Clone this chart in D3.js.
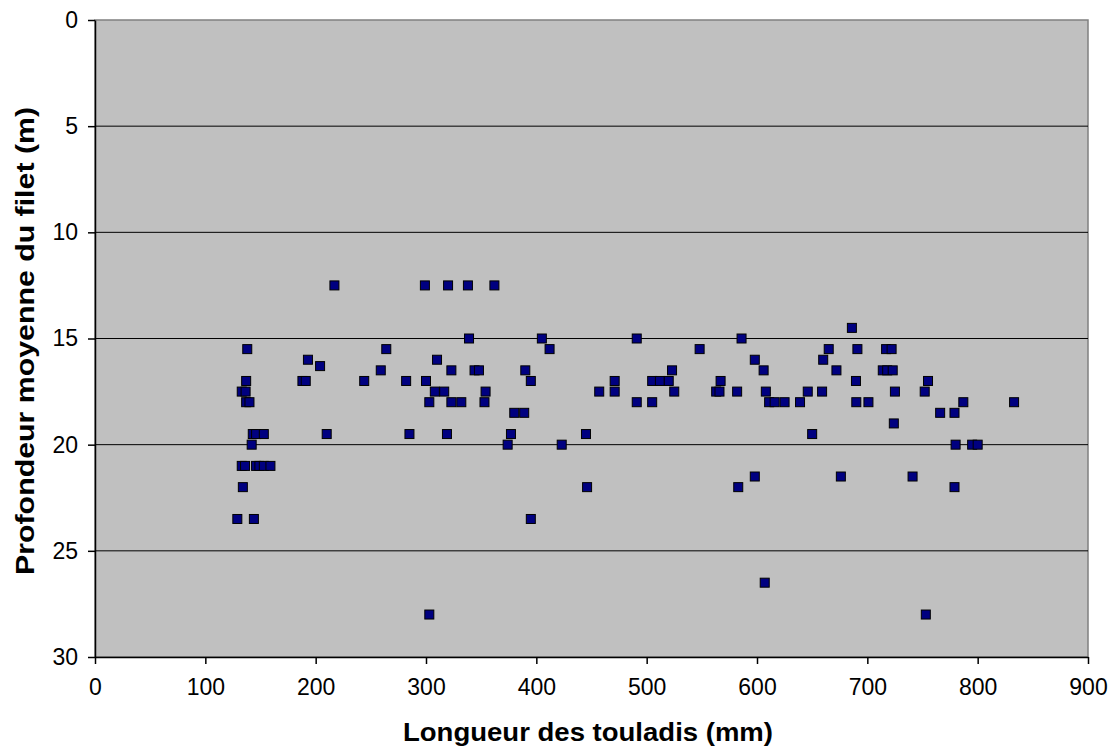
<!DOCTYPE html>
<html>
<head>
<meta charset="utf-8">
<script src="https://d3js.org/d3.v7.min.js"></script>
<style>
  body { margin: 0; background: #ffffff; }
  text { font-family: Arial, "Liberation Sans", sans-serif; }
</style>
</head>
<body>
<svg id="drawing_region"></svg>
<script>
// longueur des touladis (mm)
const lengths = [
    138, 137, 133, 136.5, 137, 140, 143, 146, 153, 142,
    133, 136, 146, 149, 153, 159, 134, 129, 144, 188,
    191, 193, 204, 210, 217, 244, 259, 264, 282, 285,
    299, 300, 303, 303, 308, 310, 316.5, 319, 320, 323,
    323, 332, 338, 339, 344, 348, 353, 354, 362, 374,
    377, 380, 389, 390, 395, 395, 405, 412, 423, 445,
    446, 457, 471, 471, 491, 491, 505, 505, 512, 520,
    523, 525, 548, 563, 566, 567, 582, 583, 586, 598,
    598, 606, 608, 607, 611, 616, 625, 639, 646, 650,
    659, 660, 665, 672, 676, 686, 689.7, 690, 691, 701,
    714, 718, 717, 722, 723, 725, 724, 741, 752, 753,
    755, 766, 779, 780, 779, 787, 795, 800, 833
];
// profondeur moyenne du filet (m)
const depths = [
    15.5, 17, 17.5, 17.5, 18, 18, 19.5, 19.5, 19.5, 20,
    21, 21, 21, 21, 21, 21, 22, 23.5, 23.5, 17,
    17, 16, 16.3, 19.5, 12.5, 17, 16.5, 15.5, 17, 19.5,
    12.5, 17, 18, 28, 17.5, 16, 17.5, 19.5, 12.5, 16.5,
    18, 18, 12.5, 15, 16.5, 16.5, 18, 17.5, 12.5, 20,
    19.5, 18.5, 18.5, 16.5, 17, 23.5, 15, 15.5, 20, 19.5,
    22, 17.5, 17.5, 17, 15, 18, 17, 18, 17, 17,
    16.5, 17.5, 15.5, 17.5, 17.5, 17, 17.5, 22, 15, 16,
    21.5, 16.5, 17.5, 26.5, 18, 18, 18, 18, 17.5, 19.5,
    17.5, 16, 15.5, 16.5, 21.5, 14.5, 17, 18, 15.5, 18,
    16.5, 16.5, 15.5, 15.5, 16.5, 17.5, 19, 21.5, 17.5, 28,
    17, 18.5, 18.5, 20, 22, 18, 20, 20, 18
];
const xticks = [0, 100, 200, 300, 400, 500, 600, 700, 800, 900];
const yticks = [0, 5, 10, 15, 20, 25, 30];

const data = lengths.map((d, i) => ({ x: d, y: depths[i] }));

class Scatter {
    constructor(config, data) {
        this.config = config;
        this.data = data;
        this.init();
    }

    init() {
        let self = this;
        self.svg = d3.select(self.config.parent)
            .attr('width', self.config.width)
            .attr('height', self.config.height);

        self.inner_width = self.config.width - self.config.margin.left - self.config.margin.right;
        self.inner_height = self.config.height - self.config.margin.top - self.config.margin.bottom;

        self.chart = self.svg.append('g')
            .attr('transform', `translate(${self.config.margin.left}, ${self.config.margin.top})`);

        self.xscale = d3.scaleLinear().domain([0, 900]).range([0, self.inner_width]);
        // depth grows downward
        self.yscale = d3.scaleLinear().domain([0, 30]).range([0, self.inner_height]);
    }

    render() {
        let self = this;

        self.chart.append('rect')
            .attr('width', self.inner_width)
            .attr('height', self.inner_height)
            .attr('fill', '#c0c0c0')
            .attr('stroke', '#808080')
            .attr('stroke-width', 1.5);

        // horizontal grid
        self.chart.append('g')
            .selectAll('line')
            .data(yticks.slice(1, -1))
            .join('line')
            .attr('x1', 0)
            .attr('x2', self.inner_width)
            .attr('y1', d => self.yscale(d))
            .attr('y2', d => self.yscale(d))
            .attr('stroke', '#000')
            .attr('stroke-width', 1);

        const xaxis = d3.axisBottom(self.xscale)
            .tickValues(xticks)
            .tickSize(7)
            .tickPadding(15)
            .tickSizeOuter(0);
        const yaxis = d3.axisLeft(self.yscale)
            .tickValues(yticks)
            .tickSize(7)
            .tickPadding(10)
            .tickSizeOuter(0);

        const xg = self.chart.append('g')
            .attr('transform', `translate(0, ${self.inner_height})`)
            .call(xaxis);
        const yg = self.chart.append('g').call(yaxis);

        [xg, yg].forEach(g => {
            g.selectAll('path, line').attr('stroke', '#000').attr('stroke-width', 1.5);
            g.selectAll('text')
                .attr('fill', '#000')
                .style('font-size', '23px')
                .style('font-family', 'Arial, "Liberation Sans", sans-serif');
        });

        // markers
        const s = 9;
        self.chart.append('g')
            .selectAll('rect')
            .data(self.data)
            .join('rect')
            .attr('x', d => self.xscale(d.x) - s / 2)
            .attr('y', d => self.yscale(d.y) - s / 2)
            .attr('width', s)
            .attr('height', s)
            .attr('fill', '#000080')
            .attr('stroke', '#000')
            .attr('stroke-width', 1);

        self.svg.append('text')
            .attr('x', 588)
            .attr('y', 741)
            .attr('text-anchor', 'middle')
            .attr('textLength', 370)
            .attr('lengthAdjust', 'spacingAndGlyphs')
            .style('font-size', '26px')
            .style('font-weight', 'bold')
            .text('Longueur des touladis (mm)');

        self.svg.append('text')
            .attr('transform', `translate(34, 341) rotate(-90)`)
            .attr('text-anchor', 'middle')
            .attr('textLength', 468)
            .attr('lengthAdjust', 'spacingAndGlyphs')
            .style('font-size', '25px')
            .style('font-weight', 'bold')
            .text('Profondeur moyenne du filet (m)');
    }
}

const config = {
    parent: '#drawing_region',
    width: 1112,
    height: 749,
    margin: { top: 20, right: 24, bottom: 92, left: 95 }
};

const scatter = new Scatter(config, data);
scatter.render();
</script>
</body>
</html>
